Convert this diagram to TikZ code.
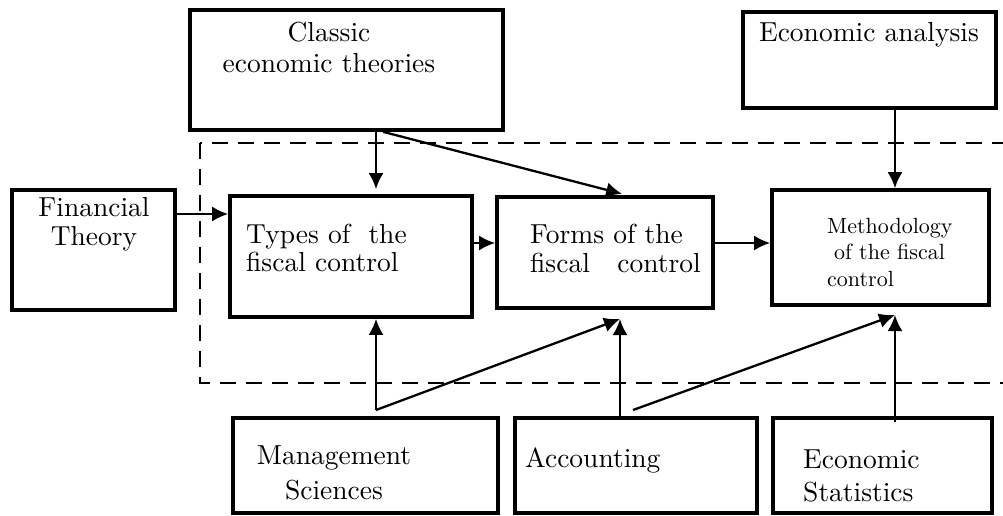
\documentclass[tikz,border=0pt]{standalone}
\usepackage{fontspec}
\setmainfont{lmroman10-regular.otf}
\usepackage{tikz}
\usetikzlibrary{arrows.meta}
\tikzset{
  >={Latex[length=16pt,width=15pt]},
}
\tikzstyle{box}=[draw,line width=3.6pt,fill=white,inner sep=0pt]
\tikzstyle{link}=[line width=2.3pt,->]
\tikzstyle{frame}=[line width=2.6pt,dash pattern=on 16pt off 10pt]
\tikzstyle{every node}=[font=\fontsize{27.5}{31}\selectfont]
\tikzstyle{txt}=[inner sep=0pt]

\begin{document}
\begin{tikzpicture}[x=1pt,y=-1pt]
    \useasboundingbox (0,0) rectangle (1003,515);
    \draw[frame] (200,143) rectangle (1040,383);
    % boxes
    \node[box,minimum width=313pt,minimum height=120pt] (classic) at (346.5,70) {};
    \node[box,minimum width=253pt,minimum height=96pt] (econanalysis) at (869.5,60) {};
    \node[box,minimum width=163pt,minimum height=120pt] (finance) at (93.5,250) {};
    \node[box,minimum width=242pt,minimum height=121pt] (types) at (351,256.5) {};
    \node[box,minimum width=216pt,minimum height=111pt] (forms) at (605,252.5) {};
    \node[box,minimum width=217pt,minimum height=115pt] (method) at (880.5,247.5) {};
    \node[box,minimum width=265pt,minimum height=95pt] (mgmt) at (365.5,465.5) {};
    \node[box,minimum width=242pt,minimum height=95pt] (accounting) at (636,465.5) {};
    \node[box,minimum width=219pt,minimum height=95pt] (econstats) at (882.5,465.5) {};
    % texts
    \node[txt,anchor=north,align=center] (classic-t) at (329,22) {Classic\\economic theories};
    \node[txt,anchor=north] (econanalysis-t) at (869,22) {Economic analysis};
    \node[txt,anchor=north,align=center,font=\fontsize{27.5}{29}\selectfont] (finance-t) at (94,197) {Financial\\Theory};
    \node[txt,anchor=north west,align=left,font=\fontsize{27.5}{28}\selectfont] (types-t) at (246,224) {Types of\ \ the\\fiscal control};
    \node[txt,anchor=north west,align=left,font=\fontsize{27.5}{29}\selectfont] (forms-t) at (530,224) {Forms of the\\fiscal\ \ \ control};
    \node[txt,anchor=north west,align=left,font=\fontsize{22}{26.5}\selectfont] (method-t) at (827,218) {Methodology\\\hspace{7pt}of the fiscal\\control};
    \node[txt,anchor=north,align=center,font=\fontsize{27.5}{35}\selectfont] (mgmt-t) at (334,446) {Management\\Sciences};
    \node[txt,anchor=north west] (accounting-t) at (525,448) {Accounting};
    \node[txt,anchor=north west,align=left,font=\fontsize{27.5}{33}\selectfont] (econstats-t) at (803,450) {Economic\\Statistics};
    % forks and entry points
    \coordinate (mfork) at (376,410);
    \coordinate (afork) at (633,410);
    \coordinate (formsin) at (620,319);
    \coordinate (methodin) at (895,315);
    % links
    \draw[link] (finance.east |- 0,214) -- (types.west |- 0,214);
    \draw[link,shorten >=5pt] (376,0 |- classic.south) -- (376,0 |- types.north);
    \draw[link,shorten >=5pt] (383,0 |- classic.south) -- (627,0 |- forms.north);
    \draw[link] (895,0 |- econanalysis.south) -- (895,0 |- method.north);
    \draw[link] (types.east |- 0,243) -- (forms.west |- 0,243);
    \draw[link] (forms.east |- 0,243) -- (method.west |- 0,243);
    \draw[link] (mfork) -- (mfork |- types.south);
    \draw[link] (mfork) -- (formsin);
    \draw[link] (accounting.north -| formsin) -- (formsin);
    \draw[link] (afork) -- (methodin);
    \draw[link,shorten <=-6pt] (econstats.north -| methodin) -- (methodin);
\end{tikzpicture}
\end{document}
